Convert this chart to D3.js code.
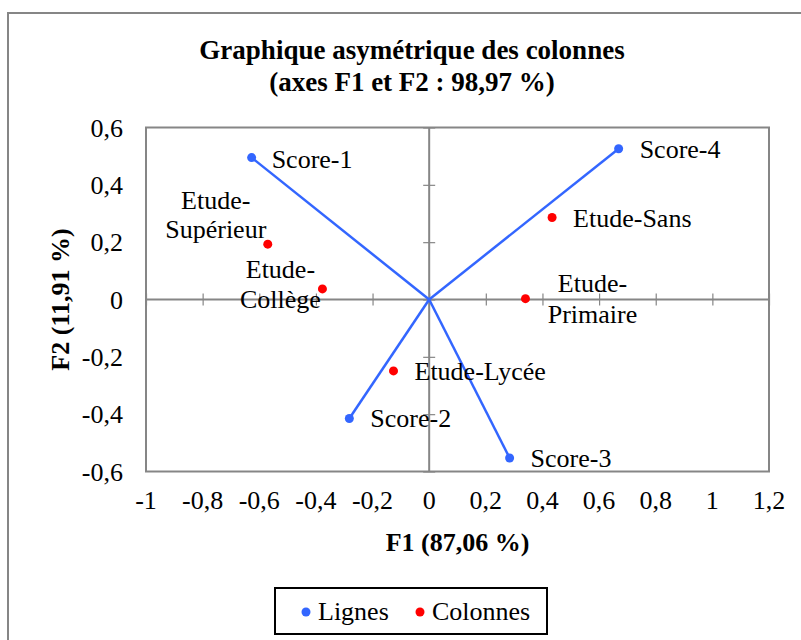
<!DOCTYPE html>
<html>
<head>
<meta charset="utf-8">
<script src="https://cdn.jsdelivr.net/npm/d3@7"></script>
<style>
  html, body { margin: 0; padding: 0; background: #fff; }
  svg { display: block; }
  text { font-family: "Liberation Serif", "Times New Roman", serif; fill: #000; }
</style>
</head>
<body>
<svg id="chart" width="801" height="640"></svg>
<script>
// Row profiles (Lignes) and column profiles (Colonnes) on the first two factors
const ligneNames = ["Score-1", "Score-2", "Score-3", "Score-4"];
const ligneF1 = [-0.627, -0.282, 0.284, 0.669];
const ligneF2 = [0.495, -0.415, -0.553, 0.526];

const colonneNames = [["Etude-", "Supérieur"], ["Etude-", "Collège"], ["Etude-Sans"], ["Etude-", "Primaire"], ["Etude-Lycée"]];
const colonneF1 = [-0.570, -0.377, 0.434, 0.340, -0.126];
const colonneF2 = [0.193, 0.037, 0.286, 0.003, -0.249];

const xTicks = [-1, -0.8, -0.6, -0.4, -0.2, 0, 0.2, 0.4, 0.6, 0.8, 1, 1.2];
const yTicks = [-0.6, -0.4, -0.2, 0, 0.2, 0.4, 0.6];

const titleLines = ["Graphique asymétrique des colonnes", "(axes F1 et F2 : 98,97 %)"];
const xTitle = "F1 (87,06 %)";
const yTitle = "F2 (11,91 %)";
const legendItems = ["Lignes", "Colonnes"];

// label placement relative to each mark: [dx, [dy per line], anchor]
const ligneLabelPos = [[20, [10], "start"], [21, [9], "start"], [21, [9], "start"], [21, [9], "start"]];
const colonneLabelPos = [[-52, [-35, -6], "middle"], [-42, [-11, 19], "middle"], [21, [9], "start"], [67, [-7, 24], "middle"], [21, [9], "start"]];

const blue = "#3366FF", red = "#FF0000", grey = "#868686";
const fmt = v => String(+v.toFixed(1)).replace(".", ",");
const FS = "26px";

const svg = d3.select("#chart");
const plot = { left: 146, right: 769, top: 127.5, bottom: 471.5 };

const x = d3.scaleLinear().domain([-1, 1.2]).range([plot.left, plot.right]);
const y = d3.scaleLinear().domain([-0.6, 0.6]).range([plot.bottom, plot.top]);

// outer chart frame (runs past the right/bottom edge of the view)
svg.append("rect").attr("x", 8).attr("y", 13).attr("width", 820).attr("height", 660)
  .attr("fill", "none").attr("stroke", grey).attr("stroke-width", 2);

// title
svg.append("text").attr("text-anchor", "middle")
  .style("font-weight", "bold").style("font-size", "27px")
  .selectAll("tspan").data(titleLines).join("tspan")
  .attr("x", 412).attr("y", (d, i) => 59 + i * 32).text(d => d);

// plot frame
svg.append("rect").attr("x", plot.left).attr("y", plot.top)
  .attr("width", plot.right - plot.left).attr("height", plot.bottom - plot.top)
  .attr("fill", "none").attr("stroke", grey).attr("stroke-width", 2);

// axes through the origin, with crossing ticks
const xAxis = d3.axisBottom(x).tickValues(xTicks).tickSizeInner(12).tickSizeOuter(0).tickFormat("");
const gx = svg.append("g").attr("transform", `translate(0,${y(0) - 6})`).call(xAxis);
gx.select(".domain").remove();
gx.selectAll(".tick line").attr("stroke", grey).attr("stroke-width", 1.2);
svg.append("line").attr("x1", plot.left).attr("x2", plot.right).attr("y1", y(0)).attr("y2", y(0))
  .attr("stroke", grey).attr("stroke-width", 2);

const yAxis = d3.axisRight(y).tickValues(yTicks).tickSizeInner(12).tickSizeOuter(0).tickFormat("");
const gy = svg.append("g").attr("transform", `translate(${x(0) - 6},0)`).call(yAxis);
gy.select(".domain").remove();
gy.selectAll(".tick line").attr("stroke", grey).attr("stroke-width", 1.2);
svg.append("line").attr("x1", x(0)).attr("x2", x(0)).attr("y1", plot.top).attr("y2", plot.bottom)
  .attr("stroke", grey).attr("stroke-width", 2);

// tick labels on the frame edges
svg.append("g").selectAll("text").data(xTicks).join("text")
  .attr("x", d => x(d)).attr("y", 509).attr("text-anchor", "middle")
  .style("font-size", FS).text(fmt);
svg.append("g").selectAll("text").data(yTicks).join("text")
  .attr("x", 123).attr("y", d => y(d) + 9).attr("text-anchor", "end")
  .style("font-size", FS).text(fmt);

// axis titles
svg.append("text").attr("x", (plot.left + plot.right) / 2).attr("y", 551).attr("text-anchor", "middle")
  .style("font-weight", "bold").style("font-size", FS).text(xTitle);
svg.append("text").attr("transform", `translate(69,${(plot.top + plot.bottom) / 2}) rotate(-90)`)
  .attr("text-anchor", "middle").style("font-weight", "bold").style("font-size", FS).text(yTitle);

// row vectors from the origin
const lignes = ligneNames.map((n, i) => ({ name: n, f1: ligneF1[i], f2: ligneF2[i], pos: ligneLabelPos[i] }));
const colonnes = colonneNames.map((n, i) => ({ name: n, f1: colonneF1[i], f2: colonneF2[i], pos: colonneLabelPos[i] }));

svg.append("g").selectAll("line").data(lignes).join("line")
  .attr("x1", x(0)).attr("y1", y(0)).attr("x2", d => x(d.f1)).attr("y2", d => y(d.f2))
  .attr("stroke", blue).attr("stroke-width", 2.5);

svg.append("g").selectAll("circle").data(lignes).join("circle")
  .attr("cx", d => x(d.f1)).attr("cy", d => y(d.f2)).attr("r", 4.5).attr("fill", blue);
svg.append("g").selectAll("circle").data(colonnes).join("circle")
  .attr("cx", d => x(d.f1)).attr("cy", d => y(d.f2)).attr("r", 4.5).attr("fill", red);

function drawLabels(data, getLines) {
  svg.append("g").selectAll("text").data(data).join("text")
    .style("font-size", FS)
    .attr("text-anchor", d => d.pos[2])
    .each(function (d) {
      const lines = getLines(d);
      d3.select(this).selectAll("tspan").data(lines).join("tspan")
        .attr("x", x(d.f1) + d.pos[0])
        .attr("y", (t, i) => y(d.f2) + d.pos[1][i])
        .text(t => t);
    });
}
drawLabels(lignes, d => [d.name]);
drawLabels(colonnes, d => d.name);

// legend
const lg = svg.append("g");
lg.append("rect").attr("x", 275).attr("y", 588).attr("width", 272).attr("height", 46)
  .attr("fill", "#fff").attr("stroke", "#000").attr("stroke-width", 2);
const legendColors = [blue, red];
const legendX = [306, 420];
legendItems.forEach((t, i) => {
  lg.append("circle").attr("cx", legendX[i]).attr("cy", 612).attr("r", 4.5).attr("fill", legendColors[i]);
  lg.append("text").attr("x", legendX[i] + 12).attr("y", 620).style("font-size", FS).text(t);
});
</script>
</body>
</html>
